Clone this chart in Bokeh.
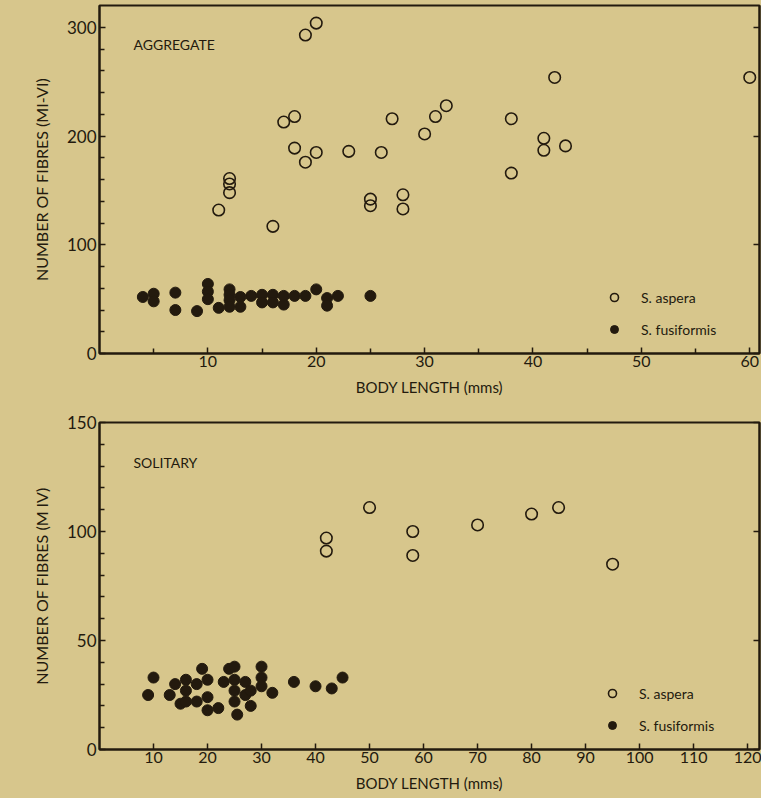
from bokeh.plotting import figure
from bokeh.models import (Range1d, FixedTicker, LinearAxis, Label, Legend, LegendItem)
from bokeh.layouts import column
from bokeh.embed import file_html
from bokeh.resources import INLINE

# ---------------- data ----------------
# (a) AGGREGATE
agg_aspera_x = [19, 20, 17, 18, 18, 19, 20, 23, 11, 12, 12, 12, 16, 25, 25, 26,
                27, 30, 31, 32, 28, 28, 38, 38, 42, 41, 41, 43, 60]
agg_aspera_y = [293, 304, 213, 218, 189, 176, 185, 186, 132, 161, 156, 148, 117, 142, 136, 185,
                216, 202, 218, 228, 146, 133, 216, 166, 254, 198, 187, 191, 254]
agg_fusi_x = [4, 5, 5, 7, 7, 9, 10, 10, 10, 11, 12, 12, 12, 12, 13, 13, 14, 15, 15,
              16, 16, 17, 17, 18, 19, 20, 21, 21, 22, 25]
agg_fusi_y = [52, 55, 48, 56, 40, 39, 64, 57, 50, 42, 59, 54, 49, 43, 52, 43, 53, 54, 47,
              54, 47, 53, 45, 53, 53, 59, 51, 44, 53, 53]

# (b) SOLITARY
sol_aspera_x = [42, 42, 50, 58, 58, 70, 80, 85, 95]
sol_aspera_y = [97, 91, 111, 100, 89, 103, 108, 111, 85]
sol_fusi_x = [9, 10, 13, 14, 15, 16, 16, 16, 18, 18, 19, 20, 20, 20, 22, 23, 24, 25, 25,
              25, 25, 25.5, 27, 27, 28, 28, 30, 30, 30, 32, 36, 40, 43, 45]
sol_fusi_y = [25, 33, 25, 30, 21, 32, 27, 22, 30, 22, 37, 32, 24, 18, 19, 31, 37, 38, 32,
              27, 22, 16, 31, 25, 27, 20, 38, 33, 29, 26, 31, 29, 28, 33]

agg_x_ticks = [10, 20, 30, 40, 50, 60]
agg_y_ticks = [0, 100, 200, 300]
sol_x_ticks = [10, 20, 30, 40, 50, 60, 70, 80, 90, 100, 110, 120]
sol_y_ticks = [0, 50, 100, 150]

BG = "#d7c68c"
INK = "#231a0e"
FONT = "Lato"


def make_panel(height, border_top, border_bottom, xr, yr, xt, xminor, yt, yminor,
               ylabel, panel_title, tag, ax, ay, fx, fy, title_y, legend_loc):
    p = figure(width=761, height=height, output_backend="svg", toolbar_location=None,
               x_range=Range1d(*xr), y_range=Range1d(*yr),
               x_axis_type=None, y_axis_type=None,
               min_border_left=99, min_border_right=2,
               min_border_top=border_top, min_border_bottom=border_bottom)
    p.background_fill_color = BG
    p.border_fill_color = BG
    p.outline_line_color = INK
    p.outline_line_width = 2
    p.xgrid.visible = False
    p.ygrid.visible = False

    xa = LinearAxis(ticker=FixedTicker(ticks=xt, minor_ticks=xminor),
                    axis_label="BODY LENGTH (mms)")
    ya = LinearAxis(ticker=FixedTicker(ticks=yt, minor_ticks=yminor), axis_label=ylabel)
    ra = LinearAxis(ticker=FixedTicker(ticks=yt, minor_ticks=[]))
    for a in (xa, ya, ra):
        a.axis_line_color = INK
        a.axis_line_width = 2
        a.major_tick_in = 6
        a.major_tick_out = 0
        a.minor_tick_in = 5
        a.minor_tick_out = 0
        a.major_tick_line_color = INK
        a.minor_tick_line_color = INK
        a.major_tick_line_width = 1.5
        a.minor_tick_line_width = 1.5
        a.major_label_text_font = FONT
        a.major_label_text_font_size = "17px"
        a.major_label_text_color = INK
        a.axis_label_text_font = FONT
        a.axis_label_text_font_size = "15px"
        a.axis_label_text_font_style = "normal"
        a.axis_label_text_color = INK
        a.major_label_standoff = 3
    xa.major_label_text_font_size = "16px"
    xa.major_label_standoff = 2
    xa.axis_label_standoff = 8
    ya.axis_label_standoff = 13
    ya.axis_label_text_font_size = "16px"
    ra.major_label_text_color = None
    ra.major_label_standoff = 0
    p.add_layout(xa, "below")
    p.add_layout(ya, "left")
    p.add_layout(ra, "right")

    r1 = p.scatter(ax, ay, size=11.5, marker="circle", fill_color=None,
                   line_color=INK, line_width=1.6)
    r2 = p.scatter(fx, fy, size=11, marker="circle", fill_color=INK,
                   line_color=INK, line_width=1)
    names = ("S. aspera", "S. fusiformis")
    leg = Legend(items=[LegendItem(label=names[0], renderers=[r1]),
                        LegendItem(label=names[1], renderers=[r2])],
                 location=legend_loc, orientation="vertical",
                 background_fill_alpha=0, border_line_color=None,
                 padding=0, margin=0, spacing=12,
                 glyph_width=20, glyph_height=20, label_height=20,
                 label_standoff=17, label_text_font=FONT,
                 label_text_font_size="14px", label_text_color=INK)
    p.add_layout(leg, "center")

    p.add_layout(Label(x=34, y=title_y, x_units="screen", y_units="screen",
                       text=panel_title, text_font=FONT, text_font_size="14px",
                       text_color=INK, text_baseline="middle"))
    p.add_layout(Label(x=-90, y=182, x_units="screen", y_units="screen",
                       text=tag, text_font=FONT, text_font_size="15px",
                       text_font_style="italic",
                       text_color=INK, text_baseline="middle"))
    return p


top = make_panel(400, 5, 47, (0, 60.9), (0, 320.2), agg_x_ticks, [5, 15, 25, 35, 45, 55],
                 agg_y_ticks, [20, 40, 60, 80, 120, 140, 160, 180, 220, 240, 260, 280],
                 "NUMBER OF FIBRES (MI-VI)", "AGGREGATE", "(a)",
                 agg_aspera_x, agg_aspera_y, agg_fusi_x, agg_fusi_y, 309, (505, 14))

bottom = make_panel(398, 22, 49, (0, 122.2), (0, 150), sol_x_ticks, [],
                    sol_y_ticks, [10, 20, 30, 40, 60, 70, 80, 90, 110, 120, 130, 140],
                    "NUMBER OF FIBRES (M IV)", "SOLITARY", "(b)",
                    sol_aspera_x, sol_aspera_y, sol_fusi_x, sol_fusi_y, 287, (503, 14))

layout = column(top, bottom, spacing=0)
layout.styles = {"background-color": BG}
open("out.html", "w").write(file_html(layout, INLINE))
